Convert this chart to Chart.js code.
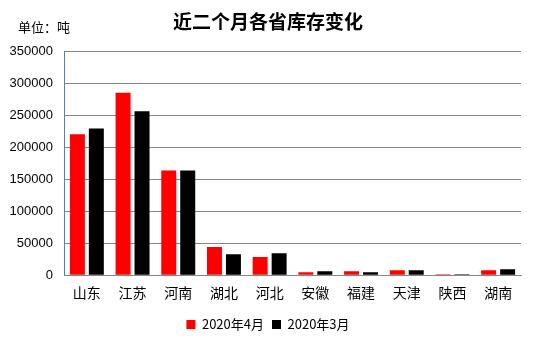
<!DOCTYPE html>
<html>
<head>
<meta charset="utf-8">
<script src="https://cdn.jsdelivr.net/npm/chart.js@4"></script>
<style>
  html, body { margin: 0; padding: 0; background: #fff; }
  #wrap { width: 536px; height: 345px; }
</style>
</head>
<body>
<div id="wrap"><canvas id="chart"></canvas></div>
<script>
// Data
const provinces = ['山东', '江苏', '河南', '湖北', '河北', '安徽', '福建', '天津', '陕西', '湖南'];
const april = [221000, 286000, 164000, 44000, 28500, 4700, 6000, 7800, 1500, 7800];
const march = [230000, 257000, 164000, 33000, 34500, 6200, 4500, 7800, 1500, 9400];
const yTicks = [0, 50000, 100000, 150000, 200000, 250000, 300000, 350000];

const CJK = '"Noto Sans CJK SC", "Noto Sans", sans-serif';
const LATIN = '"Liberation Sans", Arial, sans-serif';

// Small plugin for the unit label at top left
const unitLabel = {
    id: 'unitLabel',
    afterDraw(chart) {
        const ctx = chart.ctx;
        ctx.save();
        ctx.font = '13px ' + CJK;
        ctx.fillStyle = '#000';
        ctx.textBaseline = 'middle';
        ctx.fillText('单位：吨', 18, 27);
        ctx.restore();
    }
};

new Chart(document.getElementById('chart'), {
    type: 'bar',
    data: {
        labels: provinces,
        datasets: [{
            label: '2020年4月',
            data: april,
            backgroundColor: '#ff0000',
            barPercentage: 0.79,
            categoryPercentage: 0.83
        }, {
            label: '2020年3月',
            data: march,
            backgroundColor: '#000000',
            barPercentage: 0.79,
            categoryPercentage: 0.83
        }]
    },
    options: {
        responsive: true,
        maintainAspectRatio: false,
        animation: false,
        layout: { padding: { left: 0, right: 0, top: 4, bottom: 4 } },
        scales: {
            x: {
                grid: { display: false, drawTicks: false },
                border: { color: '#868686' },
                ticks: { color: '#000', font: { family: CJK, size: 14 }, padding: 9 }
            },
            y: {
                min: 0,
                max: 350000,
                afterBuildTicks: (axis) => { axis.ticks = yTicks.map(v => ({ value: v })); },
                afterFit: (axis) => { axis.width = 64; },
                grid: { color: '#868686', drawTicks: false },
                border: { color: '#4f81bd' },
                ticks: {
                    color: '#000',
                    font: { family: LATIN, size: 13 },
                    padding: 11,
                    callback: (v) => String(v)
                }
            },
            // empty right-hand axis, only reserves the gap after the plot
            spacer: {
                type: 'linear',
                position: 'right',
                grid: { display: false, drawTicks: false },
                border: { display: false },
                ticks: { display: false },
                afterFit: (axis) => { axis.width = 15; }
            }
        },
        plugins: {
            title: {
                display: true,
                text: '近二个月各省库存变化',
                color: '#000',
                font: { family: CJK, size: 19, weight: 'bold' },
                padding: { top: 6, bottom: 19 }
            },
            legend: {
                position: 'bottom',
                labels: {
                    color: '#000',
                    font: { family: CJK, size: 13 },
                    boxWidth: 9,
                    boxHeight: 9,
                    padding: 8
                }
            },
            tooltip: { enabled: false }
        }
    },
    plugins: [unitLabel]
});
</script>
</body>
</html>
